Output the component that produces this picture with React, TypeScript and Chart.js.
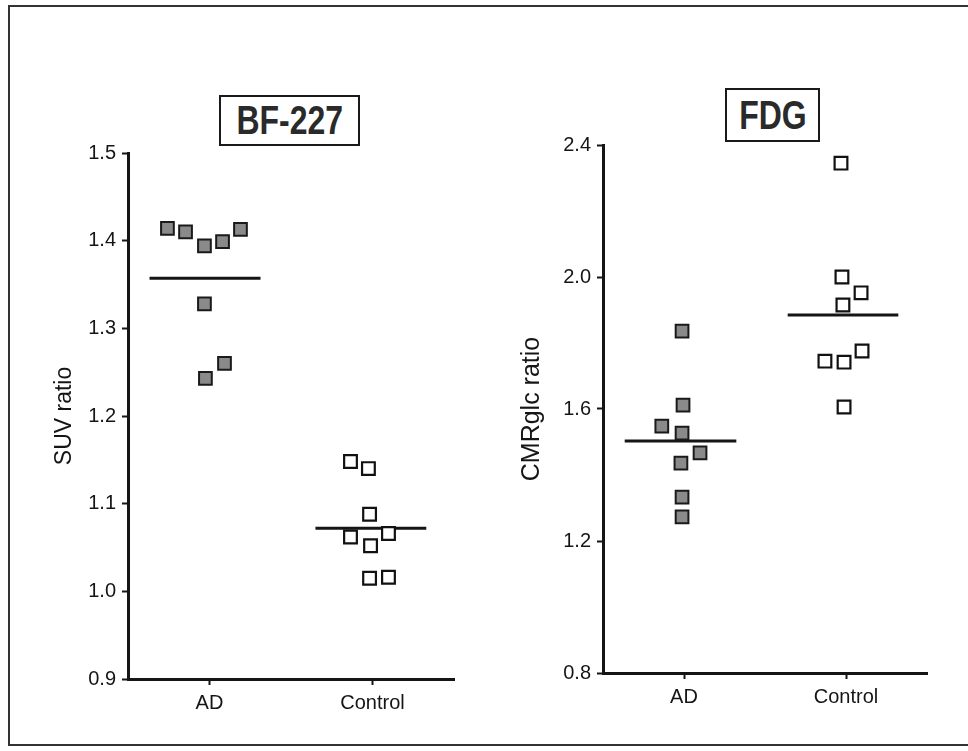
import React, { useEffect, useRef } from "react";
import { Chart, registerables } from "chart.js";

Chart.register(...registerables);

// ---------- data ----------
const categories = ["AD", "Control"];

// BF-227 panel (SUV ratio)
const bfYMin = 0.9;
const bfYMax = 1.5;
const bfYStep = 0.1;
const bfAdX = [0.742, 0.853, 0.969, 1.08, 1.19, 0.969, 1.092, 0.975];
const bfAdY = [1.414, 1.41, 1.394, 1.399, 1.413, 1.328, 1.26, 1.243];
const bfCtrlX = [1.865, 1.975, 1.982, 1.865, 1.988, 2.098, 1.982, 2.098];
const bfCtrlY = [1.148, 1.14, 1.088, 1.062, 1.052, 1.066, 1.015, 1.016];
const bfMeans = [1.357, 1.072];
const bfMeanSpanAD = [0.632, 1.313];
const bfMeanSpanCtrl = [1.65, 2.33];

// FDG panel (CMRglc ratio)
const fdgYMin = 0.8;
const fdgYMax = 2.4;
const fdgYStep = 0.4;
const fdgAdX = [0.988, 0.994, 0.863, 0.988, 1.099, 0.981, 0.988, 0.988];
const fdgAdY = [1.836, 1.612, 1.548, 1.527, 1.467, 1.436, 1.333, 1.273];
const fdgCtrlX = [1.969, 1.975, 2.093, 1.981, 2.099, 1.87, 1.988, 1.988];
const fdgCtrlY = [2.345, 2.0, 1.952, 1.915, 1.776, 1.745, 1.742, 1.606];
const fdgMeans = [1.503, 1.885];
const fdgMeanSpanAD = [0.634, 1.323];
const fdgMeanSpanCtrl = [1.64, 2.323];

const FONT = "'Liberation Sans', Arial, Helvetica, sans-serif";
const INK = "#151515";

type PanelProps = {
  left: number;
  top: number;
  width: number;
  height: number;
  padTop: number;
  padRight: number;
  yWidth: number;
  xHeight: number;
  titlePad: number;
  titleSize: number;
  yTitle: string;
  yMin: number;
  yMax: number;
  yStep: number;
  adX: number[];
  adY: number[];
  ctrlX: number[];
  ctrlY: number[];
  means: number[];
  spanAD: number[];
  spanCtrl: number[];
};

function Panel(p: PanelProps) {
  const ref = useRef<HTMLCanvasElement | null>(null);
  useEffect(() => {
    if (!ref.current) return;
    const pts = (xs: number[], ys: number[]) => xs.map((x, i) => ({ x, y: ys[i] }));
    const gridOpts = {
      display: true,
      drawOnChartArea: false,
      drawTicks: true,
      tickLength: 6,
      tickWidth: 2,
      tickColor: INK,
    };
    const chart = new Chart(ref.current, {
      type: "scatter",
      data: {
        datasets: [
          {
            data: pts(p.adX, p.adY),
            pointStyle: "rect",
            pointRadius: 9,
            backgroundColor: "#8a8a8a",
            borderColor: "#1a1a1a",
            borderWidth: 2,
          },
          {
            data: pts(p.ctrlX, p.ctrlY),
            pointStyle: "rect",
            pointRadius: 9,
            backgroundColor: "#ffffff",
            borderColor: "#111111",
            borderWidth: 2.2,
          },
          {
            data: pts(p.spanAD, [p.means[0], p.means[0]]),
            showLine: true,
            pointRadius: 0,
            borderColor: INK,
            borderWidth: 3,
          },
          {
            data: pts(p.spanCtrl, [p.means[1], p.means[1]]),
            showLine: true,
            pointRadius: 0,
            borderColor: INK,
            borderWidth: 3,
          },
        ],
      },
      options: {
        animation: false,
        responsive: false,
        layout: { padding: { top: p.padTop, right: p.padRight, left: 0, bottom: 0 } },
        plugins: { legend: { display: false }, tooltip: { enabled: false } },
        scales: {
          x: {
            type: "linear",
            min: 0.5,
            max: 2.5,
            afterBuildTicks: (s: any) => {
              s.ticks = [{ value: 1 }, { value: 2 }];
            },
            afterFit: (s: any) => {
              s.height = p.xHeight;
            },
            ticks: {
              callback: (v: any) => categories[Math.round(Number(v)) - 1] ?? "",
              font: { family: FONT, size: 20 },
              color: INK,
              padding: 6,
              maxRotation: 0,
              autoSkip: false,
            },
            grid: gridOpts,
            border: { display: true, width: 3, color: INK },
          },
          y: {
            type: "linear",
            min: p.yMin,
            max: p.yMax,
            afterFit: (s: any) => {
              s.width = p.yWidth;
            },
            ticks: {
              stepSize: p.yStep,
              callback: (v: any) => Number(v).toFixed(1),
              font: { family: FONT, size: 20 },
              color: INK,
              padding: 6,
            },
            grid: gridOpts,
            border: { display: true, width: 3, color: INK },
            title: {
              display: true,
              text: p.yTitle,
              font: { family: FONT, size: p.titleSize },
              color: INK,
              padding: { top: p.titlePad, bottom: 0 },
            },
          },
        },
      },
    } as any);
    return () => chart.destroy();
  }, []);
  return (
    <canvas
      ref={ref}
      width={p.width}
      height={p.height}
      style={{ position: "absolute", left: p.left, top: p.top, width: p.width, height: p.height }}
    />
  );
}

function TitleBox(props: { text: string; left: number; top: number; width: number; height: number }) {
  return (
    <div
      style={{
        position: "absolute",
        left: props.left,
        top: props.top,
        width: props.width,
        height: props.height,
        boxSizing: "border-box",
        border: "2px solid #1a1a1a",
        display: "flex",
        alignItems: "center",
        justifyContent: "center",
        fontFamily: FONT,
        fontWeight: "bold",
        fontSize: 34,
        color: "#2a2a2a",
        background: "#fff",
      }}
    >
      <span style={{ display: "inline-block", transform: "scale(0.94, 1.18)" }}>{props.text}</span>
    </div>
  );
}

export default function App() {
  return (
    <div
      style={{
        position: "absolute",
        left: 0,
        top: 0,
        width: 968,
        height: 751,
        background: "#fff",
        overflow: "hidden",
      }}
    >
      <div
        style={{
          position: "absolute",
          left: 8,
          top: 5,
          width: 980,
          height: 741,
          boxSizing: "border-box",
          borderTop: "2px solid #333",
          borderLeft: "2px solid #333",
          borderBottom: "2px solid #333",
        }}
      />
      <Panel
        left={20}
        top={130}
        width={450}
        height={600}
        padTop={23}
        padRight={16}
        yWidth={108}
        xHeight={51}
        titlePad={31}
        titleSize={23}
        yTitle="SUV ratio"
        yMin={bfYMin}
        yMax={bfYMax}
        yStep={bfYStep}
        adX={bfAdX}
        adY={bfAdY}
        ctrlX={bfCtrlX}
        ctrlY={bfCtrlY}
        means={bfMeans}
        spanAD={bfMeanSpanAD}
        spanCtrl={bfMeanSpanCtrl}
      />
      <Panel
        left={480}
        top={120}
        width={470}
        height={610}
        padTop={25}
        padRight={23}
        yWidth={123}
        xHeight={57}
        titlePad={37}
        titleSize={25}
        yTitle="CMRglc ratio"
        yMin={fdgYMin}
        yMax={fdgYMax}
        yStep={fdgYStep}
        adX={fdgAdX}
        adY={fdgAdY}
        ctrlX={fdgCtrlX}
        ctrlY={fdgCtrlY}
        means={fdgMeans}
        spanAD={fdgMeanSpanAD}
        spanCtrl={fdgMeanSpanCtrl}
      />
      <TitleBox text="BF-227" left={219} top={95} width={141} height={51} />
      <TitleBox text="FDG" left={725} top={88} width={95} height={54} />
    </div>
  );
}
